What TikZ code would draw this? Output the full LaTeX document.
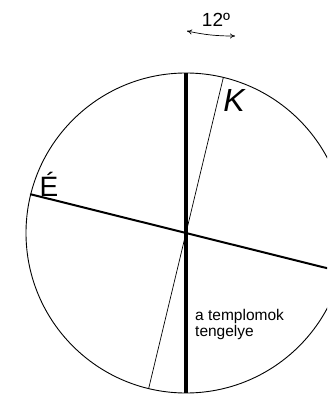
\documentclass[tikz,border=0pt]{standalone}
\usepackage{fontspec}
\setmainfont{Liberation Sans}
\usetikzlibrary{arrows.meta,calc}

\begin{document}
\begin{tikzpicture}[x=1pt,y=-1pt,line cap=round,line join=round]
        \useasboundingbox (0,0) rectangle (327,395);
        \clip (0,0) rectangle (327,395);
        \def\rad{160}
        \coordinate (O) at (186,233);

        % circle and the three lines through its centre
        \draw[line width=0.9pt] (O) circle[radius=\rad];
        \draw[line width=0.7pt] ($(O)+(-76.5:\rad)$) coordinate (Ktop)
            -- ($(O)+(103.5:\rad)$) coordinate (Kbot);
        \draw[line width=2pt] ($(O)+(-166:\rad)$) coordinate (Eleft)
            -- ($(O)+(14:\rad)$) coordinate (Eright);
        \draw[line width=4pt,line cap=butt] ($(O)+(-90:\rad)$) coordinate (Atop)
            -- ($(O)+(90:\rad)$) coordinate (Abot);

        \node[font=\fontsize{32}{32}\selectfont\itshape] (lblK) at (234,100) {K};
        \node[font=\fontsize{28}{28}\selectfont] (lblE) at (49,184) {É};
        \node[anchor=north west,align=left,inner sep=0pt,font=\fontsize{15.5}{16}\selectfont]
            (lblAxis) at (195,309) {a templomok\\tengelye};

        % angle mark
        \node[font=\fontsize{19}{19}\selectfont] (lblAngle) at (216,20) {12º};
        \coordinate (arrL) at (187,31);
        \coordinate (arrR) at (235,36);
        \draw[{To[length=5pt,width=5pt]}-{To[length=5pt,width=5pt]},line width=0.7pt]
            (arrL) to[bend right=6] (arrR);
    \end{tikzpicture}
\end{document}
